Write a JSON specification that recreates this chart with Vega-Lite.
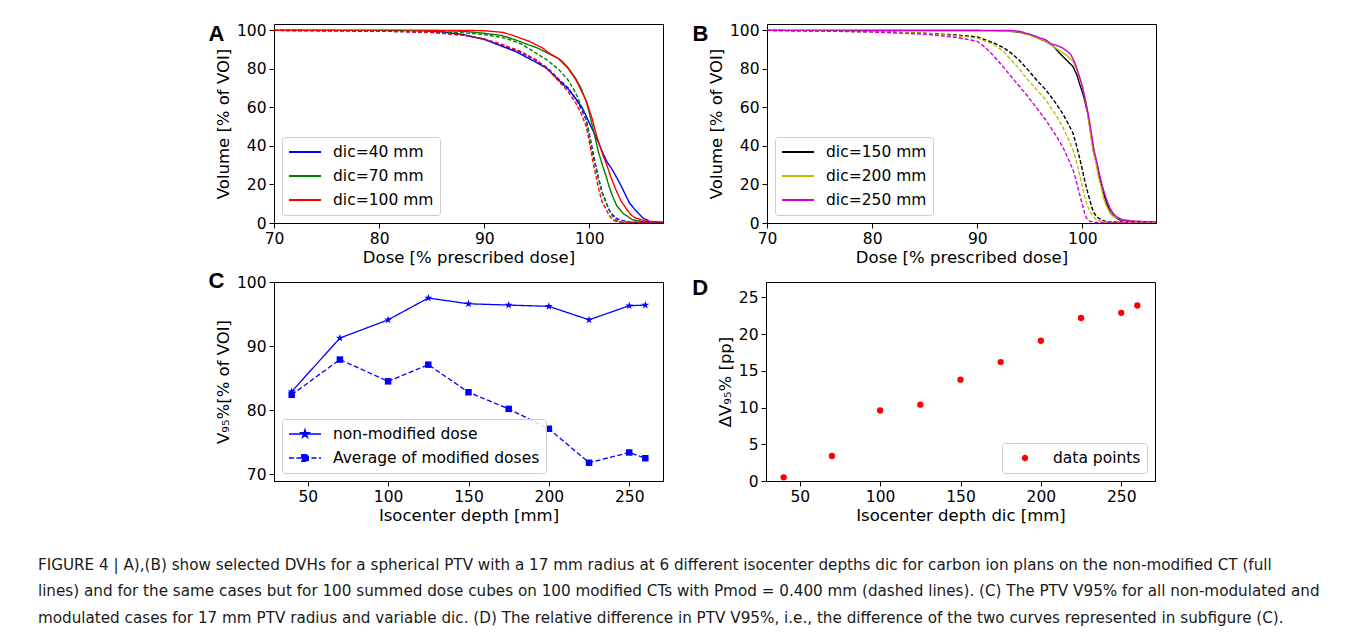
{
"$schema": "https://vega.github.io/schema/vega-lite/v6.json",
"background": "white",
"padding": {"left": 37, "top": 22, "right": 5, "bottom": 5},
"config": {
  "font": "DejaVu Sans",
  "view": {"stroke": "black", "strokeWidth": 1},
  "axis": {"grid": false, "domainColor": "black", "tickColor": "black", "labelColor": "black", "titleColor": "black", "labelFontSize": 15.5, "titleFontSize": 16.5, "titleFontWeight": "normal", "tickSize": 5, "labelPadding": 3, "titlePadding": 3, "labelFont": "DejaVu Sans", "titleFont": "DejaVu Sans", "labelFlush": false, "labelOverlap": false},
  "axisY": {"labelOverlap": false, "titlePadding": 5},
  "legend": {"labelFont": "DejaVu Sans", "labelFontSize": 15.5, "labelColor": "black", "padding": 6, "cornerRadius": 3, "strokeColor": "#cccccc", "fillColor": "rgba(255,255,255,0.85)", "offset": 8, "rowPadding": 6, "symbolSize": 256, "labelOffset": 27, "symbolStrokeWidth": 2, "symbolType": "M-1,0H3"},
  "title": {"anchor": "start", "frame": "bounds", "font": "Liberation Sans", "fontSize": 22, "fontWeight": "bold", "color": "black"}
},
"datasets": {
  "dvhA": [
    {"dose":70,"vol":100,"dic":"dic=40 mm","kind":"full"},{"dose":80,"vol":100,"dic":"dic=40 mm","kind":"full"},{"dose":84,"vol":99.8,"dic":"dic=40 mm","kind":"full"},{"dose":86,"vol":99.2,"dic":"dic=40 mm","kind":"full"},{"dose":88,"vol":97.8,"dic":"dic=40 mm","kind":"full"},{"dose":90,"vol":95.3,"dic":"dic=40 mm","kind":"full"},{"dose":91.7,"vol":91.7,"dic":"dic=40 mm","kind":"full"},{"dose":93,"vol":89,"dic":"dic=40 mm","kind":"full"},{"dose":94.9,"vol":83.5,"dic":"dic=40 mm","kind":"full"},{"dose":96,"vol":80,"dic":"dic=40 mm","kind":"full"},{"dose":97.1,"vol":74,"dic":"dic=40 mm","kind":"full"},{"dose":98,"vol":69.5,"dic":"dic=40 mm","kind":"full"},{"dose":98.7,"vol":64.5,"dic":"dic=40 mm","kind":"full"},{"dose":99.3,"vol":60,"dic":"dic=40 mm","kind":"full"},{"dose":99.7,"vol":55.5,"dic":"dic=40 mm","kind":"full"},{"dose":100.2,"vol":49.5,"dic":"dic=40 mm","kind":"full"},{"dose":100.6,"vol":45,"dic":"dic=40 mm","kind":"full"},{"dose":101,"vol":40,"dic":"dic=40 mm","kind":"full"},{"dose":101.3,"vol":36,"dic":"dic=40 mm","kind":"full"},{"dose":101.7,"vol":31.5,"dic":"dic=40 mm","kind":"full"},{"dose":102.2,"vol":27.5,"dic":"dic=40 mm","kind":"full"},{"dose":102.6,"vol":23.5,"dic":"dic=40 mm","kind":"full"},{"dose":103,"vol":19.5,"dic":"dic=40 mm","kind":"full"},{"dose":103.4,"vol":15,"dic":"dic=40 mm","kind":"full"},{"dose":103.8,"vol":10.5,"dic":"dic=40 mm","kind":"full"},{"dose":104.4,"vol":6.5,"dic":"dic=40 mm","kind":"full"},{"dose":105.1,"vol":2.6,"dic":"dic=40 mm","kind":"full"},{"dose":105.7,"vol":0.8,"dic":"dic=40 mm","kind":"full"},{"dose":106.2,"vol":0.2,"dic":"dic=40 mm","kind":"full"},{"dose":107,"vol":0,"dic":"dic=40 mm","kind":"full"},
    {"dose":70,"vol":100,"dic":"dic=70 mm","kind":"full"},{"dose":85,"vol":100,"dic":"dic=70 mm","kind":"full"},{"dose":88,"vol":99.5,"dic":"dic=70 mm","kind":"full"},{"dose":90,"vol":98.5,"dic":"dic=70 mm","kind":"full"},{"dose":91.7,"vol":97.3,"dic":"dic=70 mm","kind":"full"},{"dose":93,"vol":95,"dic":"dic=70 mm","kind":"full"},{"dose":94.2,"vol":92.5,"dic":"dic=70 mm","kind":"full"},{"dose":95,"vol":91,"dic":"dic=70 mm","kind":"full"},{"dose":96.1,"vol":88,"dic":"dic=70 mm","kind":"full"},{"dose":97,"vol":85.5,"dic":"dic=70 mm","kind":"full"},{"dose":97.4,"vol":84,"dic":"dic=70 mm","kind":"full"},{"dose":98,"vol":80.5,"dic":"dic=70 mm","kind":"full"},{"dose":98.7,"vol":75,"dic":"dic=70 mm","kind":"full"},{"dose":99.2,"vol":70,"dic":"dic=70 mm","kind":"full"},{"dose":99.7,"vol":63,"dic":"dic=70 mm","kind":"full"},{"dose":100,"vol":57,"dic":"dic=70 mm","kind":"full"},{"dose":100.3,"vol":50,"dic":"dic=70 mm","kind":"full"},{"dose":100.6,"vol":43,"dic":"dic=70 mm","kind":"full"},{"dose":100.9,"vol":36,"dic":"dic=70 mm","kind":"full"},{"dose":101.3,"vol":29,"dic":"dic=70 mm","kind":"full"},{"dose":101.6,"vol":24,"dic":"dic=70 mm","kind":"full"},{"dose":101.9,"vol":18.5,"dic":"dic=70 mm","kind":"full"},{"dose":102.2,"vol":14,"dic":"dic=70 mm","kind":"full"},{"dose":102.6,"vol":9,"dic":"dic=70 mm","kind":"full"},{"dose":103.2,"vol":5,"dic":"dic=70 mm","kind":"full"},{"dose":104.1,"vol":1.7,"dic":"dic=70 mm","kind":"full"},{"dose":105.1,"vol":0.6,"dic":"dic=70 mm","kind":"full"},{"dose":107,"vol":0.3,"dic":"dic=70 mm","kind":"full"},
    {"dose":70,"vol":100,"dic":"dic=100 mm","kind":"full"},{"dose":88,"vol":100,"dic":"dic=100 mm","kind":"full"},{"dose":90,"vol":99.8,"dic":"dic=100 mm","kind":"full"},{"dose":91.7,"vol":99,"dic":"dic=100 mm","kind":"full"},{"dose":92.5,"vol":97.8,"dic":"dic=100 mm","kind":"full"},{"dose":94.2,"vol":94.5,"dic":"dic=100 mm","kind":"full"},{"dose":95.5,"vol":91,"dic":"dic=100 mm","kind":"full"},{"dose":96.1,"vol":88.5,"dic":"dic=100 mm","kind":"full"},{"dose":97,"vol":85.5,"dic":"dic=100 mm","kind":"full"},{"dose":97.4,"vol":83.5,"dic":"dic=100 mm","kind":"full"},{"dose":98,"vol":80,"dic":"dic=100 mm","kind":"full"},{"dose":98.7,"vol":74.5,"dic":"dic=100 mm","kind":"full"},{"dose":99.2,"vol":69,"dic":"dic=100 mm","kind":"full"},{"dose":99.7,"vol":63.5,"dic":"dic=100 mm","kind":"full"},{"dose":100,"vol":58.5,"dic":"dic=100 mm","kind":"full"},{"dose":100.3,"vol":53.5,"dic":"dic=100 mm","kind":"full"},{"dose":100.6,"vol":47,"dic":"dic=100 mm","kind":"full"},{"dose":100.9,"vol":41.5,"dic":"dic=100 mm","kind":"full"},{"dose":101.3,"vol":35,"dic":"dic=100 mm","kind":"full"},{"dose":101.6,"vol":31,"dic":"dic=100 mm","kind":"full"},{"dose":102,"vol":24.5,"dic":"dic=100 mm","kind":"full"},{"dose":102.5,"vol":17.5,"dic":"dic=100 mm","kind":"full"},{"dose":103,"vol":11.5,"dic":"dic=100 mm","kind":"full"},{"dose":103.5,"vol":7.5,"dic":"dic=100 mm","kind":"full"},{"dose":104,"vol":4,"dic":"dic=100 mm","kind":"full"},{"dose":104.4,"vol":2.6,"dic":"dic=100 mm","kind":"full"},{"dose":105.4,"vol":0.9,"dic":"dic=100 mm","kind":"full"},{"dose":107,"vol":0.5,"dic":"dic=100 mm","kind":"full"},
    {"dose":70,"vol":100,"dic":"dic=40 mm","kind":"mod"},{"dose":80,"vol":99.6,"dic":"dic=40 mm","kind":"mod"},{"dose":85,"vol":99,"dic":"dic=40 mm","kind":"mod"},{"dose":88,"vol":97.5,"dic":"dic=40 mm","kind":"mod"},{"dose":90,"vol":95.5,"dic":"dic=40 mm","kind":"mod"},{"dose":92,"vol":91.5,"dic":"dic=40 mm","kind":"mod"},{"dose":93.3,"vol":89,"dic":"dic=40 mm","kind":"mod"},{"dose":94.9,"vol":84.5,"dic":"dic=40 mm","kind":"mod"},{"dose":96,"vol":80.5,"dic":"dic=40 mm","kind":"mod"},{"dose":97.1,"vol":74.5,"dic":"dic=40 mm","kind":"mod"},{"dose":98,"vol":70,"dic":"dic=40 mm","kind":"mod"},{"dose":98.7,"vol":64.5,"dic":"dic=40 mm","kind":"mod"},{"dose":99.2,"vol":59.5,"dic":"dic=40 mm","kind":"mod"},{"dose":99.7,"vol":53.5,"dic":"dic=40 mm","kind":"mod"},{"dose":100,"vol":46,"dic":"dic=40 mm","kind":"mod"},{"dose":100.3,"vol":38,"dic":"dic=40 mm","kind":"mod"},{"dose":100.6,"vol":30,"dic":"dic=40 mm","kind":"mod"},{"dose":100.9,"vol":22.5,"dic":"dic=40 mm","kind":"mod"},{"dose":101.2,"vol":16,"dic":"dic=40 mm","kind":"mod"},{"dose":101.6,"vol":10.4,"dic":"dic=40 mm","kind":"mod"},{"dose":101.9,"vol":6.5,"dic":"dic=40 mm","kind":"mod"},{"dose":102.2,"vol":4.3,"dic":"dic=40 mm","kind":"mod"},{"dose":102.7,"vol":2,"dic":"dic=40 mm","kind":"mod"},{"dose":103.2,"vol":1.2,"dic":"dic=40 mm","kind":"mod"},{"dose":103.8,"vol":0.5,"dic":"dic=40 mm","kind":"mod"},{"dose":107,"vol":0,"dic":"dic=40 mm","kind":"mod"},
    {"dose":70,"vol":100,"dic":"dic=70 mm","kind":"mod"},{"dose":80,"vol":99.8,"dic":"dic=70 mm","kind":"mod"},{"dose":85,"vol":99.4,"dic":"dic=70 mm","kind":"mod"},{"dose":88,"vol":98.7,"dic":"dic=70 mm","kind":"mod"},{"dose":90,"vol":97.8,"dic":"dic=70 mm","kind":"mod"},{"dose":92,"vol":96,"dic":"dic=70 mm","kind":"mod"},{"dose":93.5,"vol":93,"dic":"dic=70 mm","kind":"mod"},{"dose":94.9,"vol":88.3,"dic":"dic=70 mm","kind":"mod"},{"dose":96,"vol":84.5,"dic":"dic=70 mm","kind":"mod"},{"dose":97.1,"vol":79.6,"dic":"dic=70 mm","kind":"mod"},{"dose":98,"vol":74,"dic":"dic=70 mm","kind":"mod"},{"dose":98.7,"vol":67.5,"dic":"dic=70 mm","kind":"mod"},{"dose":99.2,"vol":61,"dic":"dic=70 mm","kind":"mod"},{"dose":99.7,"vol":53.6,"dic":"dic=70 mm","kind":"mod"},{"dose":100,"vol":45.5,"dic":"dic=70 mm","kind":"mod"},{"dose":100.3,"vol":36.3,"dic":"dic=70 mm","kind":"mod"},{"dose":100.6,"vol":29,"dic":"dic=70 mm","kind":"mod"},{"dose":100.9,"vol":22.5,"dic":"dic=70 mm","kind":"mod"},{"dose":101.2,"vol":16,"dic":"dic=70 mm","kind":"mod"},{"dose":101.6,"vol":10.4,"dic":"dic=70 mm","kind":"mod"},{"dose":101.9,"vol":6.5,"dic":"dic=70 mm","kind":"mod"},{"dose":102.2,"vol":3.5,"dic":"dic=70 mm","kind":"mod"},{"dose":102.7,"vol":0.9,"dic":"dic=70 mm","kind":"mod"},{"dose":103.2,"vol":0.2,"dic":"dic=70 mm","kind":"mod"},{"dose":107,"vol":0,"dic":"dic=70 mm","kind":"mod"},
    {"dose":70,"vol":100,"dic":"dic=100 mm","kind":"mod"},{"dose":80,"vol":99.6,"dic":"dic=100 mm","kind":"mod"},{"dose":85,"vol":99,"dic":"dic=100 mm","kind":"mod"},{"dose":88,"vol":97.5,"dic":"dic=100 mm","kind":"mod"},{"dose":90,"vol":95.5,"dic":"dic=100 mm","kind":"mod"},{"dose":91.5,"vol":93,"dic":"dic=100 mm","kind":"mod"},{"dose":93.3,"vol":89.5,"dic":"dic=100 mm","kind":"mod"},{"dose":94.9,"vol":84.8,"dic":"dic=100 mm","kind":"mod"},{"dose":96,"vol":80,"dic":"dic=100 mm","kind":"mod"},{"dose":97.1,"vol":73.5,"dic":"dic=100 mm","kind":"mod"},{"dose":98,"vol":68,"dic":"dic=100 mm","kind":"mod"},{"dose":98.7,"vol":62.3,"dic":"dic=100 mm","kind":"mod"},{"dose":99.2,"vol":57,"dic":"dic=100 mm","kind":"mod"},{"dose":99.7,"vol":50.2,"dic":"dic=100 mm","kind":"mod"},{"dose":100,"vol":42,"dic":"dic=100 mm","kind":"mod"},{"dose":100.3,"vol":32.9,"dic":"dic=100 mm","kind":"mod"},{"dose":100.6,"vol":25,"dic":"dic=100 mm","kind":"mod"},{"dose":100.9,"vol":17.3,"dic":"dic=100 mm","kind":"mod"},{"dose":101.2,"vol":11,"dic":"dic=100 mm","kind":"mod"},{"dose":101.6,"vol":6.9,"dic":"dic=100 mm","kind":"mod"},{"dose":101.9,"vol":3.8,"dic":"dic=100 mm","kind":"mod"},{"dose":102.2,"vol":1.7,"dic":"dic=100 mm","kind":"mod"},{"dose":102.7,"vol":0.5,"dic":"dic=100 mm","kind":"mod"},{"dose":107,"vol":0,"dic":"dic=100 mm","kind":"mod"}
  ],
  "dvhB": [
    {"dose":70,"vol":100,"dic":"dic=150 mm","kind":"full"},{"dose":90,"vol":99.9,"dic":"dic=150 mm","kind":"full"},{"dose":92.7,"vol":99.8,"dic":"dic=150 mm","kind":"full"},{"dose":94,"vol":99,"dic":"dic=150 mm","kind":"full"},{"dose":95,"vol":97.8,"dic":"dic=150 mm","kind":"full"},{"dose":96.5,"vol":94.3,"dic":"dic=150 mm","kind":"full"},{"dose":97.2,"vol":92,"dic":"dic=150 mm","kind":"full"},{"dose":97.8,"vol":88.3,"dic":"dic=150 mm","kind":"full"},{"dose":98.5,"vol":84.5,"dic":"dic=150 mm","kind":"full"},{"dose":99.1,"vol":81.3,"dic":"dic=150 mm","kind":"full"},{"dose":99.5,"vol":76.5,"dic":"dic=150 mm","kind":"full"},{"dose":99.7,"vol":72.7,"dic":"dic=150 mm","kind":"full"},{"dose":100,"vol":68,"dic":"dic=150 mm","kind":"full"},{"dose":100.2,"vol":64,"dic":"dic=150 mm","kind":"full"},{"dose":100.5,"vol":57,"dic":"dic=150 mm","kind":"full"},{"dose":100.7,"vol":50.2,"dic":"dic=150 mm","kind":"full"},{"dose":100.9,"vol":43,"dic":"dic=150 mm","kind":"full"},{"dose":101.1,"vol":36.3,"dic":"dic=150 mm","kind":"full"},{"dose":101.4,"vol":29.5,"dic":"dic=150 mm","kind":"full"},{"dose":101.6,"vol":24.2,"dic":"dic=150 mm","kind":"full"},{"dose":101.9,"vol":18.5,"dic":"dic=150 mm","kind":"full"},{"dose":102.1,"vol":13.8,"dic":"dic=150 mm","kind":"full"},{"dose":102.4,"vol":9,"dic":"dic=150 mm","kind":"full"},{"dose":102.7,"vol":5.2,"dic":"dic=150 mm","kind":"full"},{"dose":103.1,"vol":3,"dic":"dic=150 mm","kind":"full"},{"dose":103.5,"vol":1.7,"dic":"dic=150 mm","kind":"full"},{"dose":104.5,"vol":0.9,"dic":"dic=150 mm","kind":"full"},{"dose":107,"vol":0.5,"dic":"dic=150 mm","kind":"full"},
    {"dose":70,"vol":100,"dic":"dic=200 mm","kind":"full"},{"dose":92.7,"vol":99.8,"dic":"dic=200 mm","kind":"full"},{"dose":94,"vol":99.2,"dic":"dic=200 mm","kind":"full"},{"dose":95,"vol":97.5,"dic":"dic=200 mm","kind":"full"},{"dose":96.5,"vol":94.5,"dic":"dic=200 mm","kind":"full"},{"dose":97.8,"vol":89.5,"dic":"dic=200 mm","kind":"full"},{"dose":98.5,"vol":87,"dic":"dic=200 mm","kind":"full"},{"dose":99.1,"vol":84,"dic":"dic=200 mm","kind":"full"},{"dose":99.5,"vol":79.5,"dic":"dic=200 mm","kind":"full"},{"dose":99.9,"vol":72.7,"dic":"dic=200 mm","kind":"full"},{"dose":100.2,"vol":66,"dic":"dic=200 mm","kind":"full"},{"dose":100.4,"vol":60.6,"dic":"dic=200 mm","kind":"full"},{"dose":100.6,"vol":53,"dic":"dic=200 mm","kind":"full"},{"dose":100.8,"vol":45.1,"dic":"dic=200 mm","kind":"full"},{"dose":101,"vol":38,"dic":"dic=200 mm","kind":"full"},{"dose":101.3,"vol":31.1,"dic":"dic=200 mm","kind":"full"},{"dose":101.5,"vol":24.5,"dic":"dic=200 mm","kind":"full"},{"dose":101.8,"vol":18.2,"dic":"dic=200 mm","kind":"full"},{"dose":102,"vol":13,"dic":"dic=200 mm","kind":"full"},{"dose":102.3,"vol":8.7,"dic":"dic=200 mm","kind":"full"},{"dose":102.6,"vol":5.5,"dic":"dic=200 mm","kind":"full"},{"dose":102.9,"vol":3.5,"dic":"dic=200 mm","kind":"full"},{"dose":103.8,"vol":1.7,"dic":"dic=200 mm","kind":"full"},{"dose":104.8,"vol":0.9,"dic":"dic=200 mm","kind":"full"},{"dose":107,"vol":0.5,"dic":"dic=200 mm","kind":"full"},
    {"dose":70,"vol":100,"dic":"dic=250 mm","kind":"full"},{"dose":93,"vol":100,"dic":"dic=250 mm","kind":"full"},{"dose":94,"vol":99.5,"dic":"dic=250 mm","kind":"full"},{"dose":95,"vol":98,"dic":"dic=250 mm","kind":"full"},{"dose":96,"vol":96,"dic":"dic=250 mm","kind":"full"},{"dose":96.5,"vol":95.2,"dic":"dic=250 mm","kind":"full"},{"dose":97,"vol":93,"dic":"dic=250 mm","kind":"full"},{"dose":97.5,"vol":92.3,"dic":"dic=250 mm","kind":"full"},{"dose":98.1,"vol":90.9,"dic":"dic=250 mm","kind":"full"},{"dose":98.6,"vol":89,"dic":"dic=250 mm","kind":"full"},{"dose":98.9,"vol":87.4,"dic":"dic=250 mm","kind":"full"},{"dose":99.3,"vol":83,"dic":"dic=250 mm","kind":"full"},{"dose":99.7,"vol":76.2,"dic":"dic=250 mm","kind":"full"},{"dose":100,"vol":71,"dic":"dic=250 mm","kind":"full"},{"dose":100.2,"vol":65.8,"dic":"dic=250 mm","kind":"full"},{"dose":100.5,"vol":58,"dic":"dic=250 mm","kind":"full"},{"dose":100.7,"vol":51.9,"dic":"dic=250 mm","kind":"full"},{"dose":100.9,"vol":45,"dic":"dic=250 mm","kind":"full"},{"dose":101.1,"vol":38,"dic":"dic=250 mm","kind":"full"},{"dose":101.4,"vol":31,"dic":"dic=250 mm","kind":"full"},{"dose":101.6,"vol":25.9,"dic":"dic=250 mm","kind":"full"},{"dose":101.9,"vol":19,"dic":"dic=250 mm","kind":"full"},{"dose":102.3,"vol":12.1,"dic":"dic=250 mm","kind":"full"},{"dose":102.6,"vol":8,"dic":"dic=250 mm","kind":"full"},{"dose":102.9,"vol":5.2,"dic":"dic=250 mm","kind":"full"},{"dose":103.3,"vol":3,"dic":"dic=250 mm","kind":"full"},{"dose":103.8,"vol":1.7,"dic":"dic=250 mm","kind":"full"},{"dose":104.8,"vol":0.9,"dic":"dic=250 mm","kind":"full"},{"dose":107,"vol":0.5,"dic":"dic=250 mm","kind":"full"},
    {"dose":70,"vol":100,"dic":"dic=150 mm","kind":"mod"},{"dose":80,"vol":99.3,"dic":"dic=150 mm","kind":"mod"},{"dose":85,"vol":98.5,"dic":"dic=150 mm","kind":"mod"},{"dose":88,"vol":97.6,"dic":"dic=150 mm","kind":"mod"},{"dose":90,"vol":96.6,"dic":"dic=150 mm","kind":"mod"},{"dose":91.6,"vol":93.4,"dic":"dic=150 mm","kind":"mod"},{"dose":92.5,"vol":91,"dic":"dic=150 mm","kind":"mod"},{"dose":93.2,"vol":88.3,"dic":"dic=150 mm","kind":"mod"},{"dose":94,"vol":84.5,"dic":"dic=150 mm","kind":"mod"},{"dose":94.8,"vol":79.6,"dic":"dic=150 mm","kind":"mod"},{"dose":95.6,"vol":74.5,"dic":"dic=150 mm","kind":"mod"},{"dose":96.5,"vol":69.2,"dic":"dic=150 mm","kind":"mod"},{"dose":97.3,"vol":63.5,"dic":"dic=150 mm","kind":"mod"},{"dose":98.1,"vol":57.1,"dic":"dic=150 mm","kind":"mod"},{"dose":98.6,"vol":52,"dic":"dic=150 mm","kind":"mod"},{"dose":99.1,"vol":46.7,"dic":"dic=150 mm","kind":"mod"},{"dose":99.4,"vol":41,"dic":"dic=150 mm","kind":"mod"},{"dose":99.7,"vol":34.6,"dic":"dic=150 mm","kind":"mod"},{"dose":100,"vol":27.5,"dic":"dic=150 mm","kind":"mod"},{"dose":100.2,"vol":22.5,"dic":"dic=150 mm","kind":"mod"},{"dose":100.5,"vol":16,"dic":"dic=150 mm","kind":"mod"},{"dose":100.7,"vol":12.1,"dic":"dic=150 mm","kind":"mod"},{"dose":100.9,"vol":8,"dic":"dic=150 mm","kind":"mod"},{"dose":101.1,"vol":5.2,"dic":"dic=150 mm","kind":"mod"},{"dose":101.4,"vol":3,"dic":"dic=150 mm","kind":"mod"},{"dose":101.8,"vol":1.7,"dic":"dic=150 mm","kind":"mod"},{"dose":102.3,"vol":0.6,"dic":"dic=150 mm","kind":"mod"},{"dose":107,"vol":0.3,"dic":"dic=150 mm","kind":"mod"},
    {"dose":70,"vol":100,"dic":"dic=200 mm","kind":"mod"},{"dose":80,"vol":99.3,"dic":"dic=200 mm","kind":"mod"},{"dose":85,"vol":98.4,"dic":"dic=200 mm","kind":"mod"},{"dose":88,"vol":97.2,"dic":"dic=200 mm","kind":"mod"},{"dose":90,"vol":96,"dic":"dic=200 mm","kind":"mod"},{"dose":91.6,"vol":92.6,"dic":"dic=200 mm","kind":"mod"},{"dose":92.5,"vol":89,"dic":"dic=200 mm","kind":"mod"},{"dose":93.2,"vol":84.8,"dic":"dic=200 mm","kind":"mod"},{"dose":94,"vol":80,"dic":"dic=200 mm","kind":"mod"},{"dose":94.8,"vol":74.4,"dic":"dic=200 mm","kind":"mod"},{"dose":95.6,"vol":69.5,"dic":"dic=200 mm","kind":"mod"},{"dose":96.5,"vol":64,"dic":"dic=200 mm","kind":"mod"},{"dose":97.3,"vol":57.5,"dic":"dic=200 mm","kind":"mod"},{"dose":98.1,"vol":50.2,"dic":"dic=200 mm","kind":"mod"},{"dose":98.6,"vol":44.5,"dic":"dic=200 mm","kind":"mod"},{"dose":99.1,"vol":38,"dic":"dic=200 mm","kind":"mod"},{"dose":99.4,"vol":32.5,"dic":"dic=200 mm","kind":"mod"},{"dose":99.7,"vol":25.9,"dic":"dic=200 mm","kind":"mod"},{"dose":100,"vol":18.5,"dic":"dic=200 mm","kind":"mod"},{"dose":100.2,"vol":13.8,"dic":"dic=200 mm","kind":"mod"},{"dose":100.5,"vol":8.5,"dic":"dic=200 mm","kind":"mod"},{"dose":100.7,"vol":6.1,"dic":"dic=200 mm","kind":"mod"},{"dose":101,"vol":3.5,"dic":"dic=200 mm","kind":"mod"},{"dose":101.3,"vol":1.7,"dic":"dic=200 mm","kind":"mod"},{"dose":101.9,"vol":0.5,"dic":"dic=200 mm","kind":"mod"},{"dose":107,"vol":0.3,"dic":"dic=200 mm","kind":"mod"},
    {"dose":70,"vol":100,"dic":"dic=250 mm","kind":"mod"},{"dose":80,"vol":99.2,"dic":"dic=250 mm","kind":"mod"},{"dose":85,"vol":98,"dic":"dic=250 mm","kind":"mod"},{"dose":88,"vol":96.4,"dic":"dic=250 mm","kind":"mod"},{"dose":90,"vol":94.3,"dic":"dic=250 mm","kind":"mod"},{"dose":90.8,"vol":91,"dic":"dic=250 mm","kind":"mod"},{"dose":91.6,"vol":86.5,"dic":"dic=250 mm","kind":"mod"},{"dose":92.4,"vol":81.5,"dic":"dic=250 mm","kind":"mod"},{"dose":93.2,"vol":76.2,"dic":"dic=250 mm","kind":"mod"},{"dose":94,"vol":71,"dic":"dic=250 mm","kind":"mod"},{"dose":94.8,"vol":65.8,"dic":"dic=250 mm","kind":"mod"},{"dose":95.6,"vol":60,"dic":"dic=250 mm","kind":"mod"},{"dose":96.5,"vol":53.6,"dic":"dic=250 mm","kind":"mod"},{"dose":97.3,"vol":47,"dic":"dic=250 mm","kind":"mod"},{"dose":98.1,"vol":39.8,"dic":"dic=250 mm","kind":"mod"},{"dose":98.6,"vol":34,"dic":"dic=250 mm","kind":"mod"},{"dose":99.1,"vol":27.7,"dic":"dic=250 mm","kind":"mod"},{"dose":99.4,"vol":22,"dic":"dic=250 mm","kind":"mod"},{"dose":99.7,"vol":15.6,"dic":"dic=250 mm","kind":"mod"},{"dose":100,"vol":9.5,"dic":"dic=250 mm","kind":"mod"},{"dose":100.2,"vol":5.2,"dic":"dic=250 mm","kind":"mod"},{"dose":100.4,"vol":2.5,"dic":"dic=250 mm","kind":"mod"},{"dose":100.7,"vol":0.9,"dic":"dic=250 mm","kind":"mod"},{"dose":101.2,"vol":0.3,"dic":"dic=250 mm","kind":"mod"},{"dose":107,"vol":0.2,"dic":"dic=250 mm","kind":"mod"}
  ],
  "v95": [
    {"depth":40,"v":82.9,"series":"non-modified dose"},{"depth":70,"v":91.25,"series":"non-modified dose"},{"depth":100,"v":94.1,"series":"non-modified dose"},{"depth":125,"v":97.5,"series":"non-modified dose"},{"depth":150,"v":96.6,"series":"non-modified dose"},{"depth":175,"v":96.4,"series":"non-modified dose"},{"depth":200,"v":96.2,"series":"non-modified dose"},{"depth":225,"v":94.1,"series":"non-modified dose"},{"depth":250,"v":96.3,"series":"non-modified dose"},{"depth":260,"v":96.4,"series":"non-modified dose"},
    {"depth":40,"v":82.4,"series":"Average of modified doses"},{"depth":70,"v":87.9,"series":"Average of modified doses"},{"depth":100,"v":84.5,"series":"Average of modified doses"},{"depth":125,"v":87.1,"series":"Average of modified doses"},{"depth":150,"v":82.8,"series":"Average of modified doses"},{"depth":175,"v":80.2,"series":"Average of modified doses"},{"depth":200,"v":77.1,"series":"Average of modified doses"},{"depth":225,"v":71.8,"series":"Average of modified doses"},{"depth":250,"v":73.4,"series":"Average of modified doses"},{"depth":260,"v":72.5,"series":"Average of modified doses"}
  ],
  "diff": [
    {"depth":40,"d":0.5},{"depth":70,"d":3.4},{"depth":100,"d":9.6},{"depth":125,"d":10.4},{"depth":150,"d":13.8},{"depth":175,"d":16.2},{"depth":200,"d":19.1},{"depth":225,"d":22.2},{"depth":250,"d":22.9},{"depth":260,"d":23.9}
  ]
},
"title": {
  "text": [
    "FIGURE 4 | A),(B) show selected DVHs for a spherical PTV with a 17 mm radius at 6 different isocenter depths dic for carbon ion plans on the non-modified CT (full",
    "lines) and for the same cases but for 100 summed dose cubes on 100 modified CTs with Pmod = 0.400 mm (dashed lines). (C) The PTV V95% for all non-modulated and",
    "modulated cases for 17 mm PTV radius and variable dic. (D) The relative difference in PTV V95%, i.e., the difference of the two curves represented in subfigure (C)."
  ],
  "orient": "bottom", "anchor": "start", "frame": "bounds", "align": "left",
  "font": "DejaVu Sans", "fontSize": 15.2, "fontWeight": "normal", "color": "#1a1a1a",
  "lineHeight": 26.5, "offset": 33, "dx": -170
},
"spacing": 2,
"resolve": {"scale": {"color": "independent", "strokeDash": "independent", "x": "independent", "y": "independent"}, "legend": {"color": "independent", "strokeDash": "independent"}, "axis": {"x": "independent", "y": "independent"}},
"vconcat": [
  {
    "spacing": 27,
    "resolve": {"scale": {"color": "independent", "strokeDash": "independent", "x": "independent", "y": "independent"}, "legend": {"color": "independent", "strokeDash": "independent"}, "axis": {"x": "independent", "y": "independent"}},
    "hconcat": [
      {
        "width": 389, "height": 199,
        "title": {"text": "A", "dx": -7, "offset": -23},
        "data": {"name": "dvhA"},
        "mark": {"type": "line", "strokeWidth": 1.4, "clip": true},
        "encoding": {
          "x": {"field": "dose", "type": "quantitative", "scale": {"domain": [70, 107], "nice": false, "zero": false}, "axis": {"values": [70, 80, 90, 100], "title": "Dose [% prescribed dose]", "labelOverlap": false}},
          "y": {"field": "vol", "type": "quantitative", "scale": {"domain": [0, 103.3], "nice": false}, "axis": {"values": [0, 20, 40, 60, 80, 100], "title": "Volume [% of VOI]", "labelOverlap": false}},
          "color": {"field": "dic", "type": "nominal", "scale": {"domain": ["dic=40 mm", "dic=70 mm", "dic=100 mm"], "range": ["#0000ff", "#008000", "#ff0000"]}, "legend": {"orient": "bottom-left", "title": null}},
          "strokeDash": {"field": "kind", "type": "nominal", "scale": {"domain": ["full", "mod"], "range": [[1, 0], [4, 2]]}, "legend": null}
        }
      },
      {
        "width": 389, "height": 199,
        "title": {"text": "B", "dx": -16, "offset": -23},
        "data": {"name": "dvhB"},
        "mark": {"type": "line", "strokeWidth": 1.4, "clip": true},
        "encoding": {
          "x": {"field": "dose", "type": "quantitative", "scale": {"domain": [70, 107], "nice": false, "zero": false}, "axis": {"values": [70, 80, 90, 100], "title": "Dose [% prescribed dose]", "labelOverlap": false}},
          "y": {"field": "vol", "type": "quantitative", "scale": {"domain": [0, 103.3], "nice": false}, "axis": {"values": [0, 20, 40, 60, 80, 100], "title": "Volume [% of VOI]", "labelOverlap": false}},
          "color": {"field": "dic", "type": "nominal", "scale": {"domain": ["dic=150 mm", "dic=200 mm", "dic=250 mm"], "range": ["#000000", "#bfbf00", "#d000d0"]}, "legend": {"orient": "bottom-left", "title": null}},
          "strokeDash": {"field": "kind", "type": "nominal", "scale": {"domain": ["full", "mod"], "range": [[1, 0], [4, 2]]}, "legend": null}
        }
      }
    ]
  },
  {
    "spacing": 27,
    "resolve": {"scale": {"color": "independent", "strokeDash": "independent", "x": "independent", "y": "independent"}, "legend": {"color": "independent", "strokeDash": "independent"}, "axis": {"x": "independent", "y": "independent"}},
    "hconcat": [
      {
        "width": 389, "height": 199,
        "title": {"text": "C", "dx": -7, "offset": -18},
        "data": {"name": "v95"},
        "layer": [
          {
            "mark": {"type": "line", "color": "#0000ff", "strokeWidth": 1.3},
            "encoding": {
              "x": {"field": "depth", "type": "quantitative", "scale": {"domain": [29, 271], "nice": false, "zero": false}, "axis": {"values": [50, 100, 150, 200, 250], "title": "Isocenter depth [mm]"}},
              "y": {"field": "v", "type": "quantitative", "scale": {"domain": [68.95, 100], "nice": false, "zero": false}, "axis": {"values": [70, 80, 90, 100], "title": "V₉₅%[% of VOI]"}},
              "strokeDash": {"field": "series", "type": "nominal", "scale": {"domain": ["non-modified dose", "Average of modified doses"], "range": [[1, 0], [5, 2.5]]},
                "legend": {"orient": "bottom-left", "title": null, "symbolStrokeWidth": 1.5, "labelLimit": 400, "symbolFillColor": "#0000ff", "symbolStrokeColor": "#0000ff",
                  "symbolType": {"expr": "datum.value === 'non-modified dose' ? 'M-1,0H3M1,-0.5L1.113,-0.155L1.476,-0.155L1.182,0.059L1.294,0.405L1,0.191L0.706,0.405L0.818,0.059L0.524,-0.155L0.887,-0.155Z' : 'M-1,0H3M0.6,-0.4H1.4V0.4H0.6Z'"}}}
            }
          },
          {
            "transform": [{"filter": "datum.series === 'non-modified dose'"}],
            "mark": {"type": "point", "filled": true, "opacity": 1, "color": "#0000ff", "size": 70, "shape": "M0,-1L0.225,-0.309L0.951,-0.309L0.363,0.118L0.588,0.809L0,0.382L-0.588,0.809L-0.363,0.118L-0.951,-0.309L-0.225,-0.309Z"},
            "encoding": {
              "x": {"field": "depth", "type": "quantitative"},
              "y": {"field": "v", "type": "quantitative"}
            }
          },
          {
            "transform": [{"filter": "datum.series === 'Average of modified doses'"}],
            "mark": {"type": "point", "filled": true, "opacity": 1, "color": "#0000ff", "size": 42, "shape": "square"},
            "encoding": {
              "x": {"field": "depth", "type": "quantitative"},
              "y": {"field": "v", "type": "quantitative"}
            }
          }
        ]
      },
      {
        "width": 389, "height": 199,
        "title": {"text": "D", "dx": -25, "offset": -18},
        "data": {"name": "diff"},
        "mark": {"type": "point", "filled": true, "opacity": 1, "size": 40},
        "encoding": {
          "x": {"field": "depth", "type": "quantitative", "scale": {"domain": [29, 271], "nice": false, "zero": false}, "axis": {"values": [50, 100, 150, 200, 250], "title": "Isocenter depth dic [mm]"}},
          "y": {"field": "d", "type": "quantitative", "scale": {"domain": [0, 27.1], "nice": false}, "axis": {"values": [0, 5, 10, 15, 20, 25], "title": "ΔV₉₅% [pp]"}},
          "color": {"datum": "data points", "type": "nominal", "scale": {"range": ["#ff0000"]}, "legend": {"orient": "bottom-right", "title": null, "symbolType": "M1.4,0A0.4,0.4 0 1,1 0.6,0A0.4,0.4 0 1,1 1.4,0Z"}}
        }
      }
    ]
  }
]
}
